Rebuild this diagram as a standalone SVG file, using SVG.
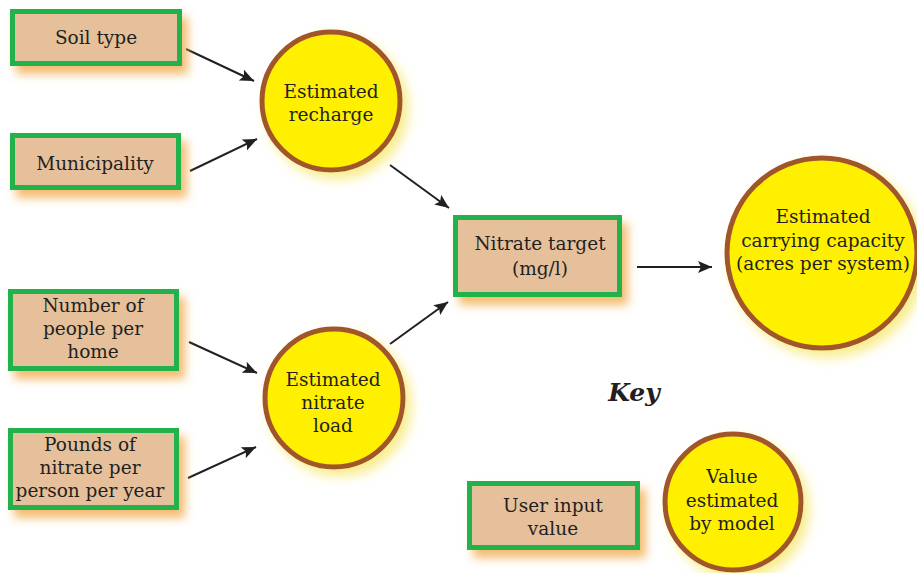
<svg xmlns="http://www.w3.org/2000/svg" width="917" height="573" viewBox="0 0 917 573">
<defs>
<style>
.box{fill:#e6bf9b;stroke:#22b24b;stroke-width:5}
.circ{fill:#fff000;stroke:#a0552b;stroke-width:5}
.t{font-family:"DejaVu Serif","Liberation Serif",serif;font-size:18.5px;fill:#231f20;text-anchor:middle}
.key{font-family:"DejaVu Serif","Liberation Serif",serif;font-size:25px;font-weight:bold;font-style:italic;fill:#231f20;text-anchor:middle}
.c{stroke:#231f20;stroke-width:2;fill:none;marker-end:url(#ah)}
</style>
<marker id="ah" markerUnits="userSpaceOnUse" markerWidth="16" markerHeight="12" refX="14" refY="6" orient="auto">
<path d="M0,0 L14,6 L0,12 L3,6 Z" fill="#231f20"/>
</marker>
<filter id="bs" x="-20%" y="-30%" width="150%" height="180%">
<feGaussianBlur in="SourceAlpha" stdDeviation="5"/>
<feOffset dx="6" dy="8" result="b"/>
<feFlood flood-color="#f0a640" flood-opacity="0.75"/>
<feComposite in2="b" operator="in"/>
<feMerge><feMergeNode/><feMergeNode in="SourceGraphic"/></feMerge>
</filter>
<filter id="cs" x="-30%" y="-30%" width="170%" height="170%">
<feGaussianBlur in="SourceAlpha" stdDeviation="6"/>
<feOffset dx="6" dy="7" result="b"/>
<feFlood flood-color="#f5e040" flood-opacity="0.6"/>
<feComposite in2="b" operator="in"/>
<feMerge><feMergeNode/><feMergeNode in="SourceGraphic"/></feMerge>
</filter>
</defs>
<rect width="917" height="573" fill="#ffffff"/>

<g id="connectors">
<line class="c" x1="186" y1="49" x2="254" y2="81"/>
<line class="c" x1="190" y1="171" x2="257" y2="139"/>
<line class="c" x1="189" y1="342" x2="257" y2="373"/>
<line class="c" x1="188" y1="478" x2="256" y2="447"/>
<line class="c" x1="390" y1="165" x2="449" y2="208"/>
<line class="c" x1="390" y1="344" x2="448" y2="302"/>
<line class="c" x1="637" y1="267" x2="712" y2="267"/>
</g>

<g id="soil-type">
<rect class="box" filter="url(#bs)" x="12.5" y="11.5" width="167" height="52"/>
<text class="t" x="96" y="44">Soil type</text>
</g>

<g id="municipality">
<rect class="box" filter="url(#bs)" x="12.5" y="135.5" width="166" height="52"/>
<text class="t" x="95" y="170">Municipality</text>
</g>

<g id="number-of-people">
<rect class="box" filter="url(#bs)" x="10.5" y="291.5" width="166" height="77"/>
<text class="t" x="93" y="312">Number of</text>
<text class="t" x="93" y="335">people per</text>
<text class="t" x="93" y="358">home</text>
</g>

<g id="pounds-of-nitrate">
<rect class="box" filter="url(#bs)" x="10.5" y="430.5" width="166" height="77"/>
<text class="t" x="90" y="451">Pounds of</text>
<text class="t" x="90" y="474">nitrate per</text>
<text class="t" x="90" y="497">person per year</text>
</g>

<g id="estimated-recharge">
<circle class="circ" filter="url(#cs)" cx="331" cy="101" r="69"/>
<text class="t" x="331" y="98">Estimated</text>
<text class="t" x="331" y="121">recharge</text>
</g>

<g id="estimated-nitrate-load">
<circle class="circ" filter="url(#cs)" cx="334" cy="398" r="69"/>
<text class="t" x="333" y="386">Estimated</text>
<text class="t" x="333" y="409">nitrate</text>
<text class="t" x="333" y="432">load</text>
</g>

<g id="nitrate-target">
<rect class="box" filter="url(#bs)" x="455.5" y="217.5" width="164" height="77"/>
<text class="t" x="540" y="250">Nitrate target</text>
<text class="t" x="540" y="275">(mg/l)</text>
</g>

<g id="carrying-capacity">
<circle class="circ" filter="url(#cs)" cx="822" cy="253" r="95"/>
<text class="t" x="823" y="223">Estimated</text>
<text class="t" x="823" y="247">carrying capacity</text>
<text class="t" x="823" y="270">(acres per system)</text>
</g>

<g id="key">
<text class="key" x="634" y="401">Key</text>
</g>

<g id="key-user-input">
<rect class="box" filter="url(#bs)" x="469.5" y="483.5" width="168" height="64"/>
<text class="t" x="553" y="512">User input</text>
<text class="t" x="553" y="535">value</text>
</g>

<g id="key-model-value">
<circle class="circ" filter="url(#cs)" cx="733" cy="502" r="68"/>
<text class="t" x="732" y="483">Value</text>
<text class="t" x="732" y="507">estimated</text>
<text class="t" x="732" y="530">by model</text>
</g>
</svg>
